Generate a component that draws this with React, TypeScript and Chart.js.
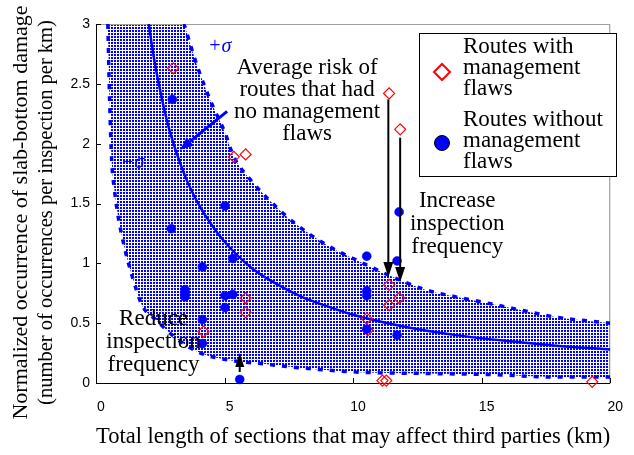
import React, { useEffect, useRef } from "react";
import { Chart, registerables } from "chart.js";

Chart.register(...registerables);

// ---- axes ----
const xTicks = [0, 5, 10, 15, 20];
const yTicks = [0, 0.5, 1, 1.5, 2, 2.5, 3];
const xTitle = "Total length of sections that may affect third parties (km)";
const yTitle = [
  "Normalized occurrence of slab-bottom damage",
  "(number of occurrences per inspection per km)",
];

// ---- routes with management flaws (red diamonds) ----
const flawX = [3.0, 5.36, 5.82, 11.4, 11.83, 5.82, 5.82, 4.18, 11.4, 11.79, 11.4, 10.53, 10.57, 11.14, 11.29, 19.3];
const flawY = [2.63, 1.89, 1.91, 2.42, 2.12, 0.71, 0.59, 0.43, 0.82, 0.71, 0.65, 0.54, 0.44, 0.02, 0.02, 0.01];

// ---- routes without management flaws (blue circles) ----
const noFlawX = [2.97, 5.02, 2.93, 5.32, 4.14, 3.46, 3.46, 3.46, 5.02, 5.32, 5.02, 4.14, 4.14, 5.59, 11.79, 10.53, 11.71, 10.53, 10.53, 10.53, 11.71];
const noFlawY = [2.37, 1.48, 1.29, 1.04, 0.97, 0.78, 0.75, 0.72, 0.73, 0.74, 0.63, 0.53, 0.33, 0.03, 1.43, 1.06, 1.02, 0.77, 0.73, 0.45, 0.4];

// ---- average risk curve ----
const meanX = [2.05, 2.25, 2.5, 2.75, 3, 3.5, 4, 4.5, 5, 6, 7, 8, 9, 10, 12, 14, 16, 18, 20];
const meanY = [3.0, 2.72, 2.44, 2.2, 2.01, 1.71, 1.49, 1.32, 1.18, 0.97, 0.83, 0.72, 0.64, 0.57, 0.47, 0.4, 0.35, 0.31, 0.28];

// ---- +sigma boundary (first point is the band's corner on the top edge) ----
const upperX = [0.46, 3.38, 3.65, 3.95, 4.45, 5.02, 5.36, 6.0, 6.73, 7.76, 9.0, 10.3, 11.5, 12.8, 14.0, 15.4, 16.5, 17.9, 20];
const upperY = [3.0, 3.0, 2.84, 2.64, 2.36, 2.09, 1.89, 1.7, 1.53, 1.33, 1.15, 1.01, 0.89, 0.78, 0.72, 0.66, 0.61, 0.55, 0.5];

// ---- -sigma boundary ----
const lowerX = [0.46, 0.53, 0.61, 0.72, 0.84, 1.1, 1.41, 1.79, 2.32, 3.08, 4.07, 5.21, 6.5, 7.76, 10.3, 12.8, 15.4, 17.9, 20];
const lowerY = [3.0, 2.36, 1.86, 1.61, 1.42, 1.14, 0.89, 0.65, 0.53, 0.38, 0.25, 0.19, 0.16, 0.13, 0.09, 0.08, 0.07, 0.05, 0.05];

// ---- legend and annotation texts ----
const legendWith = ["Routes with", "management", "flaws"];
const legendWithout = ["Routes without", "management", "flaws"];
const noteAverage = ["Average risk of", "routes that had", "no management", "flaws"];
const noteIncrease = ["Increase", "inspection", "frequency"];
const noteReduce = ["Reduce", "inspection", "frequency"];
const plusSigma = "+σ";
const minusSigma = "−σ";

const BLUE = "#0000ff";
const RED = "#ff0000";
const SERIF = '"Liberation Serif", "Times New Roman", serif';
const SANS = '"Liberation Sans", Arial, sans-serif';

const pts = (xs: number[], ys: number[]) => xs.map((x, i) => ({ x, y: ys[i] }));

function arrow(ctx: CanvasRenderingContext2D, x1: number, y1: number, x2: number, y2: number, color: string, lw: number, hl: number, hw: number) {
  const a = Math.atan2(y2 - y1, x2 - x1);
  const bx = x2 - hl * Math.cos(a);
  const by = y2 - hl * Math.sin(a);
  ctx.strokeStyle = color;
  ctx.lineWidth = lw;
  ctx.beginPath();
  ctx.moveTo(x1, y1);
  ctx.lineTo(bx, by);
  ctx.stroke();
  ctx.fillStyle = color;
  ctx.beginPath();
  ctx.moveTo(x2, y2);
  ctx.lineTo(bx + (hw / 2) * Math.sin(a), by - (hw / 2) * Math.cos(a));
  ctx.lineTo(bx - (hw / 2) * Math.sin(a), by + (hw / 2) * Math.cos(a));
  ctx.closePath();
  ctx.fill();
}

const overlay = {
  id: "overlay",
  beforeDatasetsDraw(chart: any) {
    const { ctx, chartArea: a, scales } = chart;
    const xs = scales.x, ys = scales.y;
    ctx.save();
    // frame
    ctx.lineWidth = 1.2;
    ctx.strokeStyle = "#a0a0a0";
    ctx.beginPath();
    ctx.moveTo(a.left, a.top + 0.5);
    ctx.lineTo(a.right - 0.5, a.top + 0.5);
    ctx.lineTo(a.right - 0.5, a.bottom);
    ctx.stroke();
    ctx.strokeStyle = "#000";
    ctx.lineWidth = 1;
    ctx.beginPath();
    ctx.moveTo(a.left + 0.5, a.top);
    ctx.lineTo(a.left + 0.5, a.bottom + 0.5);
    ctx.lineTo(a.right, a.bottom + 0.5);
    for (const t of xTicks) {
      const X = Math.round(xs.getPixelForValue(t)) + 0.5;
      ctx.moveTo(X, a.bottom);
      ctx.lineTo(X, a.bottom - 5);
    }
    for (const t of yTicks) {
      const Y = Math.round(ys.getPixelForValue(t)) + 0.5;
      ctx.moveTo(a.left, Y);
      ctx.lineTo(a.left + 5, Y);
    }
    ctx.stroke();

    // y-axis title (two rotated lines)
    const midY = (a.top + a.bottom) / 2;
    ctx.fillStyle = "#000";
    ctx.textAlign = "center";
    ctx.textBaseline = "middle";
    const sizes = [22, 20.5];
    const cols = [21, 47];
    yTitle.forEach((s, i) => {
      ctx.save();
      ctx.translate(ys.left + cols[i], midY + 9);
      ctx.rotate(-Math.PI / 2);
      ctx.font = `${sizes[i]}px ${SERIF}`;
      ctx.fillText(s, 0, 0);
      ctx.restore();
    });
    ctx.restore();
  },
  afterDatasetsDraw(chart: any) {
    const { ctx, chartArea: a, scales } = chart;
    const px = (v: number) => scales.x.getPixelForValue(v);
    const py = (v: number) => scales.y.getPixelForValue(v);
    ctx.save();

    // annotation texts
    ctx.fillStyle = "#000";
    ctx.textAlign = "center";
    ctx.textBaseline = "middle";
    ctx.font = `23px ${SERIF}`;
    const block = (lines: string[], x: number, y: number, gap: number) => {
      lines.forEach((s, i) => ctx.fillText(s, px(x), py(y) + i * gap));
    };
    block(noteAverage, 8.21, 2.63, 22);
    block(noteIncrease, 14.05, 1.52, 23);
    block(noteReduce, 2.24, 0.535, 23);

    ctx.fillStyle = BLUE;
    ctx.font = `italic 20px ${SERIF}`;
    ctx.fillText(plusSigma, px(4.81), py(2.81));
    ctx.fillText(minusSigma, px(1.43), py(1.84));

    // arrows
    arrow(ctx, px(5.1), py(2.27), px(3.27), py(1.95), BLUE, 3, 13, 11);
    arrow(ctx, px(11.37), py(2.37), px(11.37), py(0.885), "#000", 2, 15, 10);
    arrow(ctx, px(11.83), py(2.05), px(11.83), py(0.844), "#000", 2, 15, 10);
    arrow(ctx, px(5.59), py(0.092), px(5.59), py(0.25), "#000", 2, 14, 9);

    // legend
    const L = a.left + 323, T = a.top + 9, W = 197, H = 143;
    ctx.fillStyle = "#fff";
    ctx.fillRect(L, T, W, H);
    ctx.strokeStyle = "#000";
    ctx.lineWidth = 1;
    ctx.strokeRect(L + 0.5, T + 0.5, W, H);
    const mx = L + 23;
    const dy = T + 39;
    ctx.strokeStyle = RED;
    ctx.lineWidth = 2;
    ctx.beginPath();
    ctx.moveTo(mx - 8, dy);
    ctx.lineTo(mx, dy - 8);
    ctx.lineTo(mx + 8, dy);
    ctx.lineTo(mx, dy + 8);
    ctx.closePath();
    ctx.stroke();
    const cy = T + 110;
    ctx.fillStyle = BLUE;
    ctx.strokeStyle = "#000";
    ctx.lineWidth = 1;
    ctx.beginPath();
    ctx.arc(mx, cy, 7.5, 0, Math.PI * 2);
    ctx.fill();
    ctx.stroke();
    ctx.fillStyle = "#000";
    ctx.textAlign = "left";
    ctx.font = `23px ${SERIF}`;
    legendWith.forEach((s, i) => ctx.fillText(s, L + 44, T + 14 + i * 21));
    legendWithout.forEach((s, i) => ctx.fillText(s, L + 44, T + 87 + i * 21));
    ctx.restore();
  },
};

export default function App() {
  const ref = useRef<HTMLCanvasElement | null>(null);

  useEffect(() => {
    const canvas = ref.current!;
    const tile = document.createElement("canvas");
    tile.width = 3;
    tile.height = 3;
    const t = tile.getContext("2d")!;
    t.fillStyle = "#ffffff";
    t.fillRect(0, 0, 3, 3);
    t.fillStyle = BLUE;
    t.fillRect(0, 0, 2, 2);
    const pattern = canvas.getContext("2d")!.createPattern(tile, "repeat");

    const chart = new Chart(canvas, {
      type: "scatter",
      data: {
        datasets: [
          {
            label: "Routes without management flaws",
            data: pts(noFlawX, noFlawY),
            pointStyle: "circle",
            pointRadius: 4.5,
            backgroundColor: BLUE,
            borderColor: BLUE,
            borderWidth: 0.5,
            clip: false,
          },
          {
            label: "Routes with management flaws",
            data: pts(flawX, flawY),
            pointStyle: "rectRot",
            pointRadius: 5.5,
            backgroundColor: "rgba(0,0,0,0)",
            borderColor: RED,
            borderWidth: 1.2,
            clip: false,
          },
          {
            label: "Average",
            data: pts(meanX, meanY),
            showLine: true,
            borderColor: BLUE,
            borderWidth: 2.5,
            pointRadius: 0,
            cubicInterpolationMode: "monotone",
            fill: false,
          },
          {
            label: "+σ",
            data: pts(upperX, upperY),
            showLine: true,
            borderColor: BLUE,
            borderWidth: 3.5,
            borderDash: [5, 7],
            pointRadius: 0,
            cubicInterpolationMode: "monotone",
            backgroundColor: pattern as any,
            fill: "+1",
            segment: {
              borderColor: (c: any) => (c.p0DataIndex === 0 ? "rgba(0,0,0,0)" : BLUE),
            },
          },
          {
            label: "−σ",
            data: pts(lowerX, lowerY),
            showLine: true,
            borderColor: BLUE,
            borderWidth: 3.5,
            borderDash: [5, 7],
            pointRadius: 0,
            cubicInterpolationMode: "monotone",
            fill: false,
          },
        ] as any,
      },
      options: {
        responsive: false,
        animation: false,
        events: [],
        layout: { padding: { left: 0, right: 12, top: 24, bottom: 0 } },
        plugins: {
          legend: { display: false },
          tooltip: { enabled: false },
          filler: { drawTime: "beforeDatasetsDraw", propagate: false },
        } as any,
        scales: {
          x: {
            type: "linear",
            min: 0,
            max: 20,
            afterBuildTicks: (s: any) => {
              s.ticks = xTicks.map((v) => ({ value: v }));
            },
            afterFit: (s: any) => {
              s.height = 72;
            },
            grid: { display: false, drawTicks: false },
            border: { display: false },
            ticks: {
              padding: 16,
              labelOffset: 5,
              maxRotation: 0,
              color: "#000",
              font: { family: SANS, size: 14 },
              callback: (v: any) => String(v),
            },
            title: {
              display: true,
              text: xTitle,
              color: "#000",
              font: { family: SERIF, size: 23.5, lineHeight: 1.15 },
              padding: { top: 0, bottom: 5 },
            },
          },
          y: {
            type: "linear",
            min: 0,
            max: 3,
            afterBuildTicks: (s: any) => {
              s.ticks = yTicks.map((v) => ({ value: v }));
            },
            afterFit: (s: any) => {
              s.width = 96;
            },
            grid: { display: false, drawTicks: false },
            border: { display: false },
            ticks: {
              padding: 6,
              color: "#000",
              font: { family: SANS, size: 14 },
              callback: (v: any) => String(v),
            },
            title: { display: false },
          },
        },
      } as any,
      plugins: [overlay],
    });
    return () => chart.destroy();
  }, []);

  return (
    <div style={{ position: "absolute", left: 0, top: 0, width: 634, height: 455, background: "#fff" }}>
      <canvas ref={ref} width={634} height={455} style={{ display: "block" }} />
    </div>
  );
}
